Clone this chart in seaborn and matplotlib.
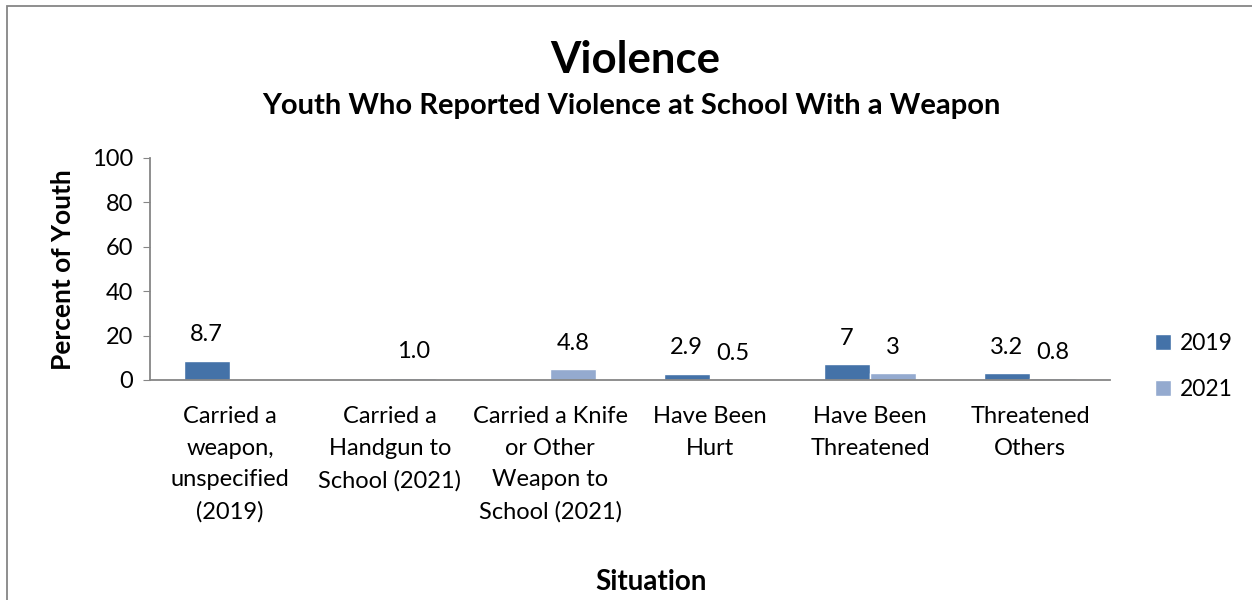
import numpy as np
import pandas as pd
import matplotlib.pyplot as plt
import seaborn as sns
from matplotlib.patches import Rectangle

# data
categories = [
    "Carried a\nweapon,\nunspecified\n(2019)",
    "Carried a\nHandgun to\nSchool (2021)",
    "Carried a Knife\nor Other\nWeapon to\nSchool (2021)",
    "Have Been\nHurt",
    "Have Been\nThreatened",
    "Threatened\nOthers",
]
years = ["2019", "2021"]
values_2019 = [8.7, np.nan, np.nan, 2.9, 7, 3.2]
values_2021 = [np.nan, 1.0, 4.8, 0.5, 3, 0.8]
labels_2019 = ["8.7", "", "", "2.9", "7", "3.2"]
labels_2021 = ["", "1.0", "4.8", "0.5", "3", "0.8"]

df = pd.DataFrame({
    "Situation": categories * 2,
    "Year": ["2019"] * 6 + ["2021"] * 6,
    "Percent": values_2019 + values_2021,
})

sns.set_style("white")
plt.rcParams["font.family"] = ["Lato", "DejaVu Sans"]
plt.rcParams["text.color"] = "black"
plt.rcParams["xtick.color"] = "black"
plt.rcParams["ytick.color"] = "black"

fig = plt.figure(figsize=(12.52, 6), dpi=100)
ax = fig.add_axes([0.1198, 0.3667, 0.7668, 0.37])

colors = {"2019": "#4472A8", "2021": "#94AACF"}
sns.barplot(data=df, x="Situation", y="Percent", hue="Year", hue_order=years,
            order=categories, palette=colors, width=0.58, ax=ax, saturation=1)

# value labels
for cont, labs in zip(ax.containers, [labels_2019, labels_2021]):
    labs = [l for l in labs if l != ""]
    ax.bar_label(cont, labels=labs, padding=11, fontsize=17)

ax.set_ylim(0, 100)
ax.set_xlim(-0.5, 5.5)
ax.set_yticks(range(0, 101, 20))
ax.tick_params(axis="y", labelsize=17, length=5, color="#868686", left=True, pad=7)
ax.tick_params(axis="x", labelsize=17, length=0, pad=19)
for lab in ax.get_xticklabels():
    lab.set_linespacing(1.62)
for s in ["top", "right"]:
    ax.spines[s].set_visible(False)
for s in ["left", "bottom"]:
    ax.spines[s].set_color("#868686")
    ax.spines[s].set_linewidth(1.3)
ax.set_xlabel("")
ax.set_ylabel("")

leg = ax.legend(loc="center left", bbox_to_anchor=(1.025, 0.06), frameon=False,
                fontsize=16.5, handlelength=0.7, handleheight=0.7, labelspacing=1.1,
                handletextpad=0.4)

fig.text(0.5075, 0.9, "Violence", ha="center", va="center", fontsize=31.5, fontweight="bold")
fig.text(0.504, 0.823, "Youth Who Reported Violence at School With a Weapon",
         ha="center", va="center", fontsize=21, fontweight="bold")
fig.text(0.05, 0.55, "Percent of Youth", rotation=90, ha="center", va="center",
         fontsize=19, fontweight="bold")
fig.text(0.52, 0.03, "Situation", ha="center", va="center", fontsize=20, fontweight="bold")

fig.patches.append(Rectangle((0.0056, -0.1), 1.2, 1.09, transform=fig.transFigure,
                             fill=False, edgecolor="#868686", linewidth=1.3))

fig.savefig("out.png", dpi=100)
